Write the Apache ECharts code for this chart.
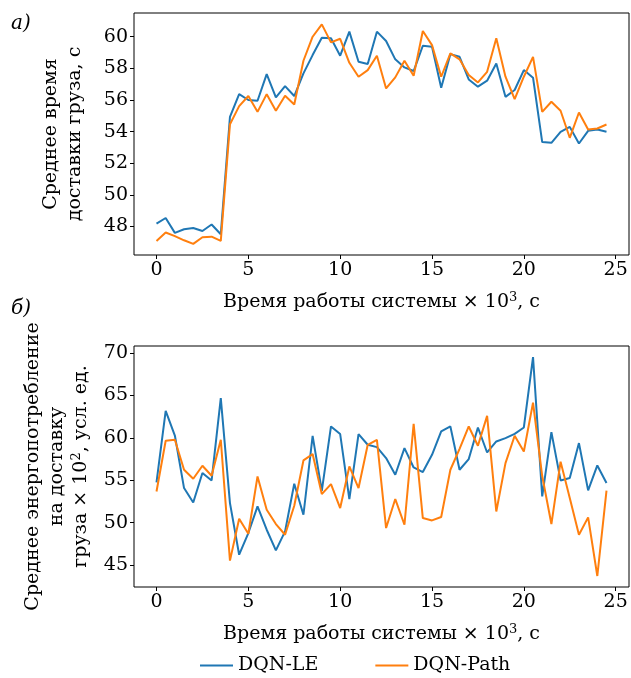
<!DOCTYPE html>
<html lang="ru">
<head>
    <meta charset="UTF-8">
    <title>DQN-LE / DQN-Path</title>
    <style>
        html, body { margin: 0; padding: 0; background: #fff; }
    </style>
</head>
<body>
<div id="main" style="width: 631px;height:678px;"></div>
<script src="https://cdn.jsdelivr.net/npm/echarts@6.0.0/dist/echarts.min.js"></script>
<script type="text/javascript">
    // время работы системы, x10^3 с
    var timeK = [0, 0.5, 1, 1.5, 2, 2.5, 3, 3.5, 4, 4.5, 5, 5.5, 6, 6.5, 7, 7.5, 8, 8.5, 9, 9.5,
        10, 10.5, 11, 11.5, 12, 12.5, 13, 13.5, 14, 14.5, 15, 15.5, 16, 16.5, 17, 17.5, 18, 18.5, 19, 19.5,
        20, 20.5, 21, 21.5, 22, 22.5, 23, 23.5, 24, 24.5];
    var xTicks = [0, 5, 10, 15, 20, 25];
    var yTicksTime = [48, 50, 52, 54, 56, 58, 60];
    var yTicksEnergy = [45, 50, 55, 60, 65, 70];

    // а) среднее время доставки груза, с
    var timeLE = [48.19, 48.54, 47.60, 47.83, 47.91, 47.72, 48.13, 47.51, 54.94, 56.37,
        56.00, 55.95, 57.64, 56.16, 56.88, 56.25, 57.68, 58.84, 59.94, 59.90,
        58.80, 60.32, 58.42, 58.27, 60.32, 59.73, 58.57, 58.06, 57.83, 59.43,
        59.37, 56.77, 58.90, 58.73, 57.30, 56.84, 57.22, 58.31, 56.20, 56.63,
        57.89, 57.41, 53.34, 53.29, 53.99, 54.30, 53.25, 54.05, 54.14, 53.99];
    var timePath = [47.09, 47.62, 47.39, 47.13, 46.90, 47.32, 47.36, 47.09, 54.47, 55.61,
        56.25, 55.25, 56.37, 55.32, 56.27, 55.72, 58.48, 60.00, 60.78, 59.64,
        59.87, 58.35, 57.47, 57.89, 58.80, 56.73, 57.43, 58.48, 57.53, 60.36,
        59.47, 57.47, 58.95, 58.57, 57.58, 57.11, 57.78, 59.90, 57.47, 56.06,
        57.47, 58.73, 55.25, 55.89, 55.32, 53.61, 55.21, 54.14, 54.20, 54.45];

    // б) среднее энергопотребление на доставку груза x10^2, усл. ед.
    var energyLE = [54.74, 63.20, 60.28, 54.08, 52.38, 55.85, 54.98, 64.69, 52.31, 46.21,
        48.77, 51.91, 49.16, 46.73, 48.97, 54.59, 50.93, 60.25, 53.76, 61.35,
        60.45, 52.78, 60.45, 59.19, 58.91, 57.62, 55.65, 58.80, 56.51, 55.97,
        58.01, 60.76, 61.35, 56.24, 57.50, 61.23, 58.28, 59.58, 59.98, 60.48,
        61.23, 69.53, 53.09, 60.68, 54.98, 55.26, 59.39, 53.80, 56.75, 54.67];
    var energyPath = [53.68, 59.66, 59.78, 56.24, 55.18, 56.71, 55.53, 59.78, 45.51, 50.46,
        48.69, 55.45, 51.52, 49.83, 48.57, 52.00, 57.34, 58.09, 53.37, 54.55,
        51.72, 56.63, 54.08, 59.19, 59.78, 49.36, 52.78, 49.75, 61.66, 50.54,
        50.26, 50.66, 56.24, 58.71, 61.35, 59.07, 62.60, 51.32, 57.03, 60.25,
        58.40, 64.17, 55.50, 49.83, 57.20, 52.90, 48.57, 50.62, 43.70, 53.78];

    function pairs(xs, ys) {
        return xs.map(function (x, i) { return [x, ys[i]]; });
    }

    var font = 'DejaVu Serif';
    var blue = '#1f77b4', orange = '#ff7f0e';

    function xAxisOpt(idx) {
        return {
            type: 'value', gridIndex: idx,
            min: -1.225, max: 25.725,
            name: 'Время работы системы × 10{sup|3}, с',
            nameLocation: 'middle', nameGap: 36,
            nameTextStyle: {
                fontFamily: font, fontSize: 19, color: '#000',
                rich: { sup: { fontFamily: font, fontSize: 13, color: '#000', padding: [0, 0, 9, 0] } }
            },
            axisLine: { show: false, onZero: false },
            axisTick: { show: true, length: 4, customValues: xTicks, lineStyle: { color: '#000' } },
            axisLabel: { customValues: xTicks, fontFamily: font, fontSize: 19, color: '#000', margin: 6 },
            splitLine: { show: false }
        };
    }

    function yAxisOpt(idx, min, max, ticks, name, gap) {
        return {
            type: 'value', gridIndex: idx,
            min: min, max: max,
            name: name, nameLocation: 'middle', nameGap: gap, nameRotate: 90,
            nameTextStyle: {
                fontFamily: font, fontSize: 19, color: '#000', lineHeight: 24, align: 'center',
                rich: { sup: { fontFamily: font, fontSize: 13, color: '#000', padding: [0, 0, 9, 0] } }
            },
            axisLine: { show: false, onZero: false },
            axisTick: { show: true, length: 4, customValues: ticks, lineStyle: { color: '#000' } },
            axisLabel: { customValues: ticks, fontFamily: font, fontSize: 19, color: '#000', margin: 6 },
            splitLine: { show: false }
        };
    }

    function lineSeries(name, idx, data, color) {
        return {
            name: name, type: 'line',
            xAxisIndex: idx, yAxisIndex: idx,
            data: data, symbol: 'none',
            lineStyle: { color: color, width: 2 },
            itemStyle: { color: color },
            animation: false
        };
    }

    var myChart = echarts.init(document.getElementById('main'));
    var option = {
        animation: false,
        grid: [
            { left: 134, top: 13, width: 495, height: 242, show: true, borderWidth: 1, borderColor: '#000' },
            { left: 134, top: 346, width: 495, height: 241, show: true, borderWidth: 1, borderColor: '#000' }
        ],
        xAxis: [xAxisOpt(0), xAxisOpt(1)],
        yAxis: [
            yAxisOpt(0, 46.2, 61.5, yTicksTime, 'Среднее время\nдоставки груза, с', 47),
            yAxisOpt(1, 42.4, 70.85, yTicksEnergy,
                'Среднее энергопотребление\nна доставку\nгруза × 10{sup|2}, усл. ед.', 36)
        ],
        legend: {
            left: 200, top: 656, padding: 0,
            icon: 'rect',
            itemWidth: 33, itemHeight: 2, itemGap: 57, itemTextGap: 5,
            textStyle: { fontFamily: font, fontSize: 19, color: '#000' },
            data: ['DQN-LE', 'DQN-Path']
        },
        graphic: [
            { type: 'text', left: 11, top: 14,
              style: { text: 'а)', fontFamily: font, fontStyle: 'italic', fontSize: 20, fill: '#000' } },
            { type: 'text', left: 11, top: 299,
              style: { text: 'б)', fontFamily: font, fontStyle: 'italic', fontSize: 20, fill: '#000' } }
        ],
        series: [
            lineSeries('DQN-LE', 0, pairs(timeK, timeLE), blue),
            lineSeries('DQN-Path', 0, pairs(timeK, timePath), orange),
            lineSeries('DQN-LE', 1, pairs(timeK, energyLE), blue),
            lineSeries('DQN-Path', 1, pairs(timeK, energyPath), orange)
        ]
    };
    myChart.setOption(option);
</script>
</body>
</html>
